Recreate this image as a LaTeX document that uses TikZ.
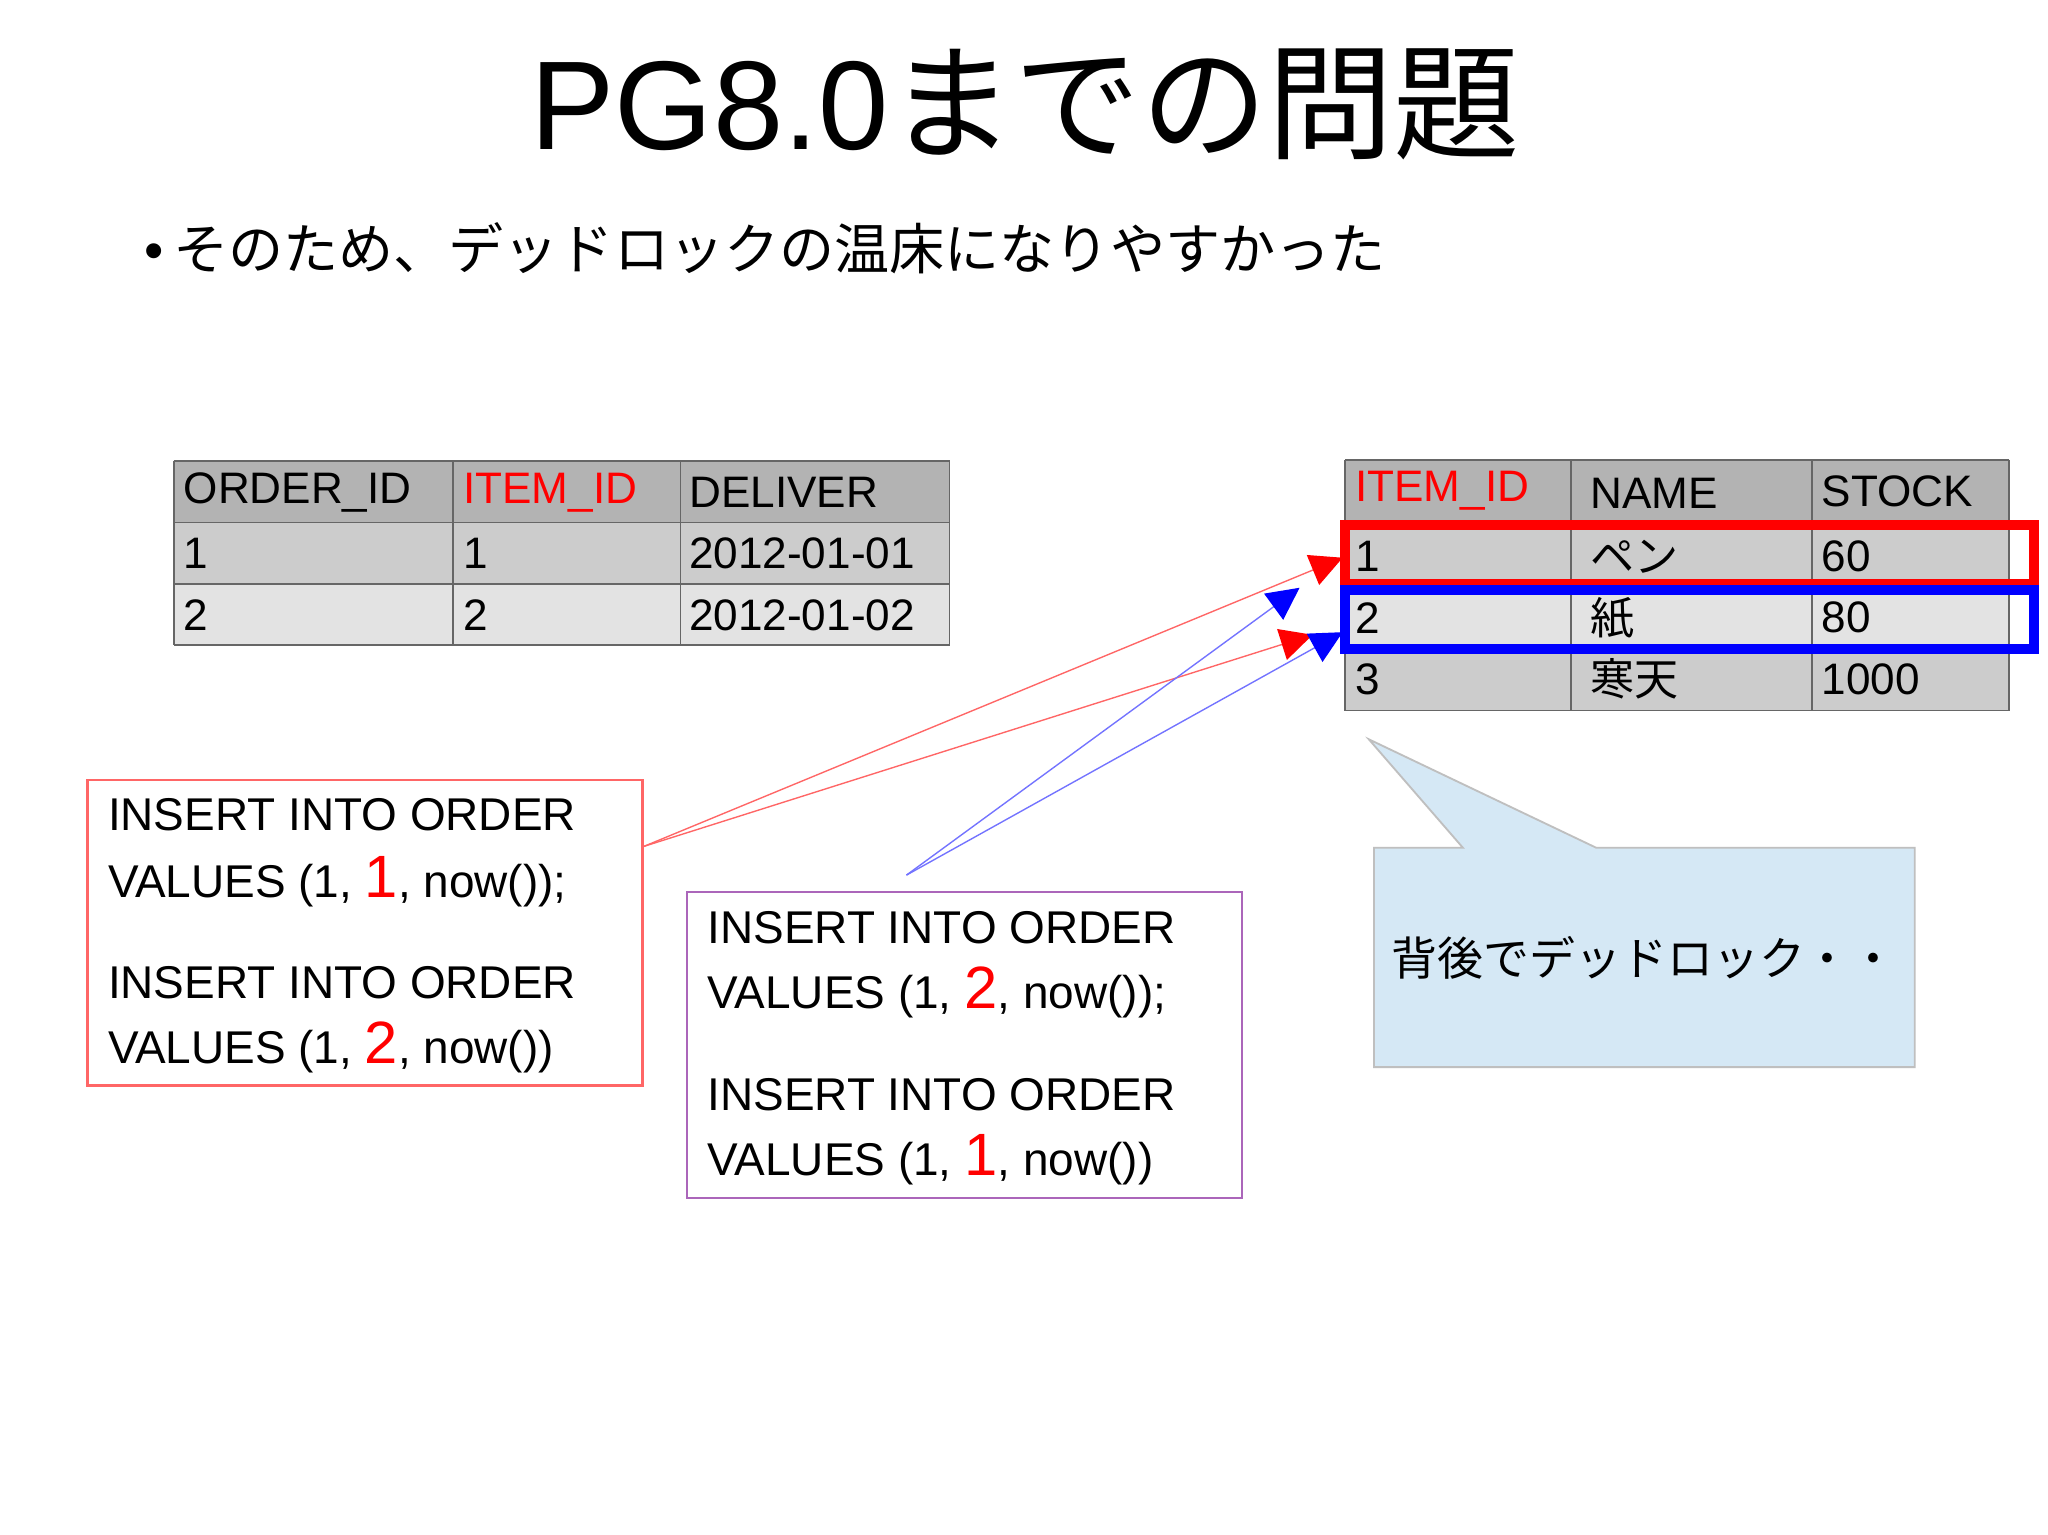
\documentclass[tikz,border=0pt]{standalone}
\usepackage{fontspec}
\setmainfont{Liberation Sans}
\newfontfamily\jp{Noto Sans CJK JP}
\usetikzlibrary{arrows.meta}
\definecolor{hdr}{HTML}{B3B3B3}
\definecolor{rowa}{HTML}{CCCCCC}
\definecolor{rowb}{HTML}{E3E3E3}
\definecolor{callout}{HTML}{D5E8F5}
\tikzset{
  cell/.style={draw=gray!80!black,line width=0.4pt},
  tx/.style={anchor=west,inner sep=0pt,font=\fontsize{9.6}{11}\selectfont},
  code/.style={anchor=west,inner sep=0pt,font=\fontsize{10}{12}\selectfont},
  redarr/.style={red!60,line width=0.3pt,-{Triangle[length=7pt,width=7pt,fill=red,color=red]}},
  bluearr/.style={blue!55,line width=0.3pt,-{Triangle[length=7pt,width=7pt,fill=blue,color=blue]}}
}
\newcommand{\R}[1]{\textcolor{red}{\fontsize{13}{12}\selectfont #1}}
\begin{document}
\begin{tikzpicture}[x=0.01cm,y=-0.01cm]
\useasboundingbox[fill=white] (0,0) rectangle (1568,1175);
\node (title) at (785,80) {\fontsize{27.5}{30}\selectfont PG8.0\jp までの問題};
\node[anchor=west,inner sep=0pt] (bul) at (110,190) {\fontsize{12}{14}\selectfont •\,\jp そのため、デッドロックの温床になりやすかった};
% left table
\fill[hdr] (133,353) rectangle (727,400);
\fill[rowa] (133,400) rectangle (727,447);
\fill[rowb] (133,447) rectangle (727,494);
\foreach \y in {353,400,447,494} \draw[cell] (133,\y) -- (727,\y);
\foreach \x in {133,347,521,727} \draw[cell] (\x,353) -- (\x,494);
\node[tx] (l11) at (140,377) {ORDER\_ID};
\node[tx,text=red] (l12) at (354,377) {ITEM\_ID};
\node[tx] (l13) at (527,377) {DELIVER};
\node[tx] (l21) at (140,424) {1};
\node[tx] (l22) at (354,424) {1};
\node[tx] (l23) at (527,424) {2012-01-01};
\node[tx] (l31) at (140,471) {2};
\node[tx] (l32) at (354,471) {2};
\node[tx] (l33) at (527,471) {2012-01-02};
% right table
\fill[hdr] (1030,352) rectangle (1538,401);
\fill[rowa] (1030,401) rectangle (1538,449);
\fill[rowb] (1030,449) rectangle (1538,497);
\fill[rowa] (1030,497) rectangle (1538,544);
\foreach \y in {352,401,449,497,544} \draw[cell] (1030,\y) -- (1538,\y);
\foreach \x in {1030,1203,1387,1538} \draw[cell] (\x,352) -- (\x,544);
\node[tx,text=red] (r12) at (1037,376) {ITEM\_ID};
\node[tx] (r13) at (1217,378) {NAME};
\node[tx] (r14) at (1394,376) {STOCK};
\node[tx] (r21) at (1037,426) {1};
\node[tx] (r22) at (1217,426) {\jp ペン};
\node[tx] (r23) at (1394,426) {60};
\node[tx] (r31) at (1037,473) {2};
\node[tx] (r32) at (1217,473) {\jp 紙};
\node[tx] (r33) at (1394,473) {80};
\node[tx] (r41) at (1037,520) {3};
\node[tx] (r42) at (1217,520) {\jp 寒天};
\node[tx] (r43) at (1394,520) {1000};
\draw[red,line width=2.2pt] (1030,402) rectangle (1557,447);
\draw[blue,line width=2.2pt] (1030,452) rectangle (1557,497);
% left box
\draw[red!60,line width=0.5pt] (67,597) rectangle (492,831);
\node[code] (a1) at (82,624) {INSERT INTO ORDER};
\node[code] (a2) at (82,675) {VALUES (1, \R{1}, now());};
\node[code] (a3) at (82,752) {INSERT INTO ORDER};
\node[code] (a4) at (82,802) {VALUES (1, \R{2}, now())};
% middle box
\draw[blue!40!purple!60,line width=0.5pt] (526,683) rectangle (951,917);
\node[code] (b1) at (541,710) {INSERT INTO ORDER};
\node[code] (b2) at (541,760) {VALUES (1, \R{2}, now());};
\node[code] (b3) at (541,838) {INSERT INTO ORDER};
\node[code] (b4) at (541,888) {VALUES (1, \R{1}, now())};
% callout
\fill[callout] (1052,649) -- (1120,649) -- (1048,566) -- (1222,649) -- (1466,649) -- (1466,817) -- (1052,817) -- cycle;
\draw[gray!50,line width=0.4pt] (1052,649) -- (1120,649) -- (1048,566) -- (1222,649) -- (1466,649) -- (1466,817) -- (1052,817) -- cycle;
\node[anchor=west,inner sep=0pt] (cl) at (1065,733) {\fontsize{10}{12}\selectfont\jp 背後でデッドロック・・};
% arrows
\coordinate (ra) at (493,648);
\coordinate (rt1) at (1028,427);
\coordinate (rt2) at (1005,486);
\coordinate (ba) at (694,670);
\coordinate (bt1) at (995,450);
\coordinate (bt2) at (1028,484);
\draw[redarr] (ra) -- (rt1);
\draw[redarr] (ra) -- (rt2);
\draw[bluearr] (ba) -- (bt1);
\draw[bluearr] (ba) -- (bt2);
\end{tikzpicture}
\end{document}
